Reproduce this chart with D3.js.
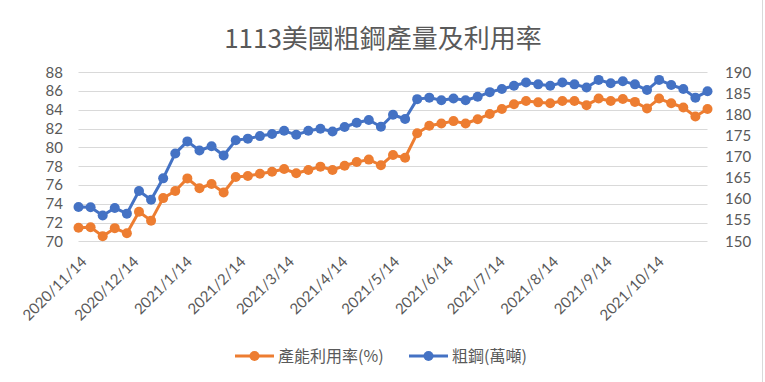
<!DOCTYPE html>
<html><head><meta charset="utf-8">
<script src="https://cdn.jsdelivr.net/npm/d3@7"></script>
<style>
html,body{margin:0;padding:0;background:#fff;}
svg{display:block;}
text{font-family:"Noto Sans CJK TC","Noto Sans",sans-serif;fill:#595959;}
</style></head>
<body><svg id="c" width="765" height="382"></svg>
<script>
const title = "1113美國粗鋼產量及利用率";
const dates = ["2020-11-14","2020-11-21","2020-11-28","2020-12-05","2020-12-12","2020-12-19","2020-12-26",
"2021-01-02","2021-01-09","2021-01-16","2021-01-23","2021-01-30","2021-02-06","2021-02-13","2021-02-20","2021-02-27",
"2021-03-06","2021-03-13","2021-03-20","2021-03-27","2021-04-03","2021-04-10","2021-04-17","2021-04-24",
"2021-05-01","2021-05-08","2021-05-15","2021-05-22","2021-05-29","2021-06-05","2021-06-12","2021-06-19","2021-06-26",
"2021-07-03","2021-07-10","2021-07-17","2021-07-24","2021-07-31","2021-08-07","2021-08-14","2021-08-21","2021-08-28",
"2021-09-04","2021-09-11","2021-09-18","2021-09-25","2021-10-02","2021-10-09","2021-10-16","2021-10-23","2021-10-30",
"2021-11-06","2021-11-13"];
const utilization = [71.45,71.5,70.55,71.4,70.85,73.15,72.2,74.6,75.35,76.7,75.65,76.1,75.2,76.85,76.95,77.2,77.4,77.7,77.25,77.6,77.95,77.6,78.05,78.45,78.7,78.1,79.2,78.9,81.5,82.3,82.55,82.8,82.55,83.0,83.55,84.1,84.6,84.95,84.8,84.7,84.95,84.95,84.5,85.2,84.95,85.15,84.85,84.15,85.2,84.7,84.25,83.3,84.1];
const steel = [158.1,158.05,156.1,157.9,156.55,161.9,159.85,164.9,170.8,173.65,171.5,172.5,170.3,173.9,174.3,174.9,175.4,176.15,175.2,176.15,176.65,176.0,177.05,178.05,178.7,177.1,179.95,178.95,183.65,184.0,183.4,183.8,183.4,184.2,185.3,186.05,186.8,187.6,187.15,186.8,187.6,187.15,186.4,188.2,187.4,187.9,187.15,185.8,188.2,187.0,186.05,184.0,185.5];
const tickDates = ["2020-11-14","2020-12-14","2021-01-14","2021-02-14","2021-03-14","2021-04-14","2021-05-14","2021-06-14","2021-07-14","2021-08-14","2021-09-14","2021-10-14"];
const leftTicks = [70,72,74,76,78,80,82,84,86,88];
const rightTicks = [150,155,160,165,170,175,180,185,190];
const seriesNames = ["產能利用率(%)","粗鋼(萬噸)"];
const colors = ["#ED7D31","#4472C4"];

const parse = d3.timeParse("%Y-%m-%d");
const fmt = d3.timeFormat("%Y/%-m/%-d");
const svg = d3.select("#c");
svg.append("rect").attr("width",765).attr("height",382).attr("fill","#fff");
svg.append("line").attr("x1",762.5).attr("x2",762.5).attr("y1",0).attr("y2",382).attr("stroke","#D9D9D9");

const x = d3.scaleTime().domain([parse(dates[0]), parse(dates[dates.length-1])]).range([78.5,707.5]);
const yL = d3.scaleLinear().domain([70,88]).range([241.3,72.3]);
const yR = d3.scaleLinear().domain([150,190]).range([241.3,72.3]);

// title
svg.append("text").attr("x",383).attr("y",48).attr("text-anchor","middle")
  .style("font-size","26px").text(title);

// gridlines
svg.append("g").selectAll("line").data(leftTicks).join("line")
  .attr("x1",78.5).attr("x2",707.5)
  .attr("y1",d=>Math.round(yL(d))+0.5).attr("y2",d=>Math.round(yL(d))+0.5)
  .attr("stroke","#D9D9D9").attr("stroke-width",1);

const numFont = "Lato, 'Liberation Sans', sans-serif";

// left axis
const gl = svg.append("g").attr("transform","translate(70,0)")
  .call(d3.axisLeft(yL).tickValues(leftTicks).tickSize(0).tickPadding(7));
gl.select(".domain").remove();
gl.selectAll("text").style("font-size","15px").attr("fill","#595959").style("font-family",numFont);

// right axis
const gr = svg.append("g").attr("transform","translate(718,0)")
  .call(d3.axisRight(yR).tickValues(rightTicks).tickSize(0).tickPadding(7));
gr.select(".domain").remove();
gr.selectAll("text").style("font-size","15px").attr("fill","#595959").style("font-family",numFont);

// x axis labels
const gx = svg.append("g").attr("transform","translate(0,248)")
  .call(d3.axisBottom(x).tickValues(tickDates.map(parse)).tickFormat(fmt).tickSize(0).tickPadding(0));
gx.select(".domain").remove();
gx.selectAll("text").style("font-size","15px").attr("fill","#595959").style("font-family",numFont)
  .attr("text-anchor","end").attr("dy","0.35em").attr("y",0).attr("x",0)
  .attr("transform","translate(5,11) rotate(-45)");

// series
const series = [
  {vals: utilization, y: yL, color: colors[0]},
  {vals: steel, y: yR, color: colors[1]}
];
series.forEach(s=>{
  const pts = dates.map((d,i)=>({x:x(parse(d)), y:s.y(s.vals[i])}));
  svg.append("path").datum(pts).attr("fill","none").attr("stroke",s.color)
    .attr("stroke-width",3).attr("stroke-linejoin","round")
    .attr("d",d3.line().x(d=>d.x).y(d=>d.y));
  svg.append("g").selectAll("circle").data(pts).join("circle")
    .attr("cx",d=>d.x).attr("cy",d=>d.y).attr("r",5).attr("fill",s.color);
});

// legend
const legendItems = [{x:235, name:seriesNames[0], color:colors[0]},{x:409, name:seriesNames[1], color:colors[1]}];
const lg = svg.append("g");
legendItems.forEach(it=>{
  lg.append("line").attr("x1",it.x).attr("x2",it.x+39).attr("y1",356).attr("y2",356)
    .attr("stroke",it.color).attr("stroke-width",3);
  lg.append("circle").attr("cx",it.x+19.5).attr("cy",356).attr("r",5).attr("fill",it.color);
  lg.append("text").attr("x",it.x+43).attr("y",356).attr("dy","0.35em").style("font-size","16px").text(it.name);
});
</script></body></html>
